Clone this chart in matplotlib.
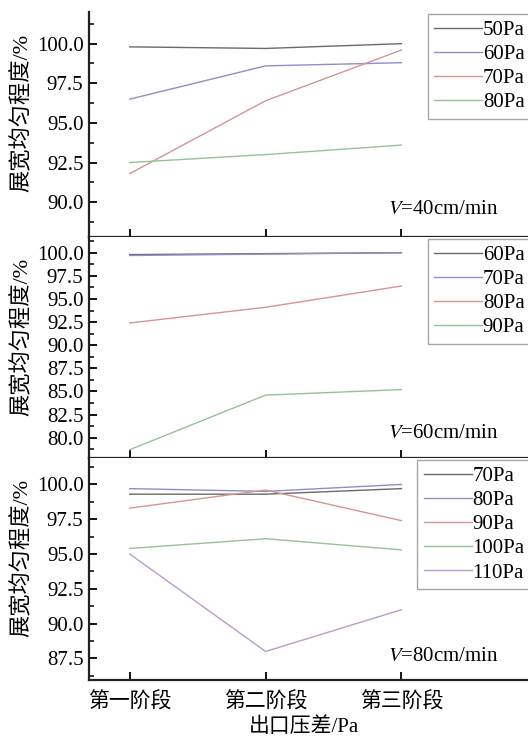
import matplotlib
matplotlib.use("Agg")
import matplotlib.pyplot as plt
from matplotlib.ticker import MultipleLocator

plt.rcParams['font.family'] = ['Liberation Serif', 'Noto Sans CJK SC', 'DejaVu Sans']
plt.rcParams['mathtext.fontset'] = 'stix'

stages = ['第一阶段', '第二阶段', '第三阶段']
xlabel = '出口压差/Pa'
ylabel = '展宽均匀程度/%'

# Panel 1: V=40cm/min
p1_labels = ['50Pa', '60Pa', '70Pa', '80Pa']
p1_50 = [99.8, 99.7, 100.0]
p1_60 = [96.5, 98.6, 98.8]
p1_70 = [91.8, 96.4, 99.6]
p1_80 = [92.5, 93.0, 93.6]

# Panel 2: V=60cm/min
p2_labels = ['60Pa', '70Pa', '80Pa', '90Pa']
p2_60 = [99.8, 99.9, 100.0]
p2_70 = [99.7, 99.85, 100.0]
p2_80 = [92.4, 94.1, 96.4]
p2_90 = [78.7, 84.6, 85.2]

# Panel 3: V=80cm/min
p3_labels = ['70Pa', '80Pa', '90Pa', '100Pa', '110Pa']
p3_70 = [99.3, 99.3, 99.7]
p3_80 = [99.7, 99.5, 100.0]
p3_90 = [98.3, 99.6, 97.4]
p3_100 = [95.4, 96.1, 95.3]
p3_110 = [95.0, 88.0, 91.0]

speeds = ['$V$=40cm/min', '$V$=60cm/min', '$V$=80cm/min']

c_gray = '#6a6a6a'
c_blue = '#8e8ec8'
c_red = '#d89494'
c_green = '#94c494'
c_purple = '#b89ccc'

W, H = 528, 740
FS = 15
fig = plt.figure(figsize=(W / 100, H / 100), dpi=100)

left = 89 / W
width = (540 - 89) / W
panels = [
    (12, 237, (87.8, 102.0), [p1_50, p1_60, p1_70, p1_80], p1_labels,
     [c_gray, c_blue, c_red, c_green], 0.124),
    (237, 458, (77.8, 101.7), [p2_60, p2_70, p2_80, p2_90], p2_labels,
     [c_gray, c_blue, c_red, c_green], 0.109),
    (458, 680, (85.95, 101.9), [p3_70, p3_80, p3_90, p3_100, p3_110], p3_labels,
     [c_gray, c_blue, c_red, c_green, c_purple], 0.108),
]

x = list(range(len(stages)))
for i, (top, bot, ylim, series, labels, colors, ty) in enumerate(panels):
    ax = fig.add_axes([left, 1 - bot / H, width, (bot - top) / H])
    for s, lab, c in zip(series, labels, colors):
        ax.plot(x, s, color=c, lw=1.0, label=lab)
    ax.set_xlim(-0.3, 3.02)
    ax.set_ylim(*ylim)
    ax.yaxis.set_major_locator(MultipleLocator(2.5))
    ax.yaxis.set_minor_locator(MultipleLocator(1.25))
    ax.yaxis.set_major_formatter(matplotlib.ticker.FormatStrFormatter('%.1f'))
    ax.set_xticks(x)
    ax.tick_params(axis='both', which='major', direction='in', length=6, width=1.3,
                   labelsize=FS)
    ax.tick_params(axis='y', which='minor', direction='in', length=3.5, width=1.1)
    ax.tick_params(axis='y', pad=4)
    for sp in ['top', 'right']:
        ax.spines[sp].set_visible(False)
    for sp in ['left', 'bottom']:
        ax.spines[sp].set_linewidth(1.6)
        ax.spines[sp].set_color('#222222')
    ax.set_ylabel(ylabel, fontsize=16)
    ax.yaxis.set_label_coords(-0.124, 0.55)
    if i < 2:
        ax.set_xticklabels([])
    else:
        ax.set_xticklabels(stages, fontsize=FS)
        ax.tick_params(axis='x', pad=9)
    # legend: right edge slightly past figure edge, like the reference
    leg = ax.legend(loc='upper right',
                    bbox_to_anchor=(531 / W, 1 - (top + 2) / H),
                    bbox_transform=fig.transFigure, fontsize=FS,
                    frameon=True, fancybox=False, handlelength=2.3,
                    handletextpad=0.05, borderpad=0.3, labelspacing=0.22,
                    borderaxespad=0.0)
    leg.get_frame().set_edgecolor('#909090')
    leg.get_frame().set_linewidth(1.0)
    ax.text(1.90, ty, speeds[i], transform=ax.get_xaxis_transform(),
            fontsize=FS, ha='left', va='center')

fig.text(304 / W, 1 - 727 / H, xlabel, fontsize=FS, ha='center', va='center')

fig.savefig('out.png', dpi=100, facecolor='white')
